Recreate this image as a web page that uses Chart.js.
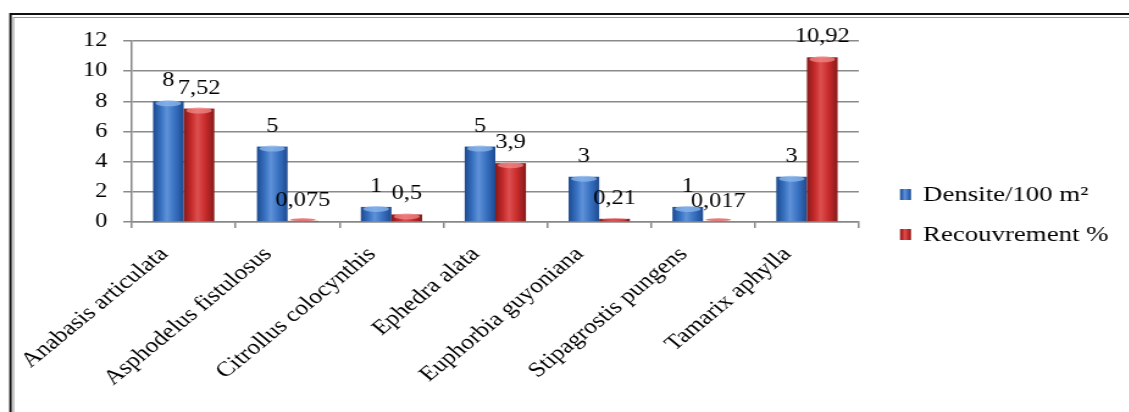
<!DOCTYPE html>
<html>
<head>
<meta charset="utf-8">
<script src="https://cdn.jsdelivr.net/npm/chart.js@4/dist/chart.umd.min.js"></script>
<style>
  html, body { margin: 0; padding: 0; background: #fff; overflow: hidden; }
  #wrap { position: relative; width: 1129px; height: 412px; overflow: hidden; }
  /* the figure is drawn a bit narrow and widened, giving the wide serif look */
  #c { transform: scaleX(1.22); transform-origin: 0 0; }
</style>
</head>
<body>
<div id="wrap"><canvas id="c" width="926" height="412"></canvas></div>
<script>
// species and the two measured series
const especes = [
    'Anabasis articulata',
    'Asphodelus fistulosus',
    'Citrollus colocynthis',
    'Ephedra alata',
    'Euphorbia guyoniana',
    'Stipagrostis pungens',
    'Tamarix aphylla'
];
const densite = [8, 5, 1, 5, 3, 1, 3];
const recouvrement = [7.52, 0.075, 0.5, 3.9, 0.21, 0.017, 10.92];
const yTicks = [0, 2, 4, 6, 8, 10, 12];

const SERIF = '"Liberation Serif", "Times New Roman", serif';
const SX = 1.22;

// blue / red palettes for the shaded bars
const palettes = [
    { dark: '#1d4a8f', mid: '#3770c0', light: '#5f92d8', cap: '#8fb8ec' },
    { dark: '#861a1a', mid: '#c62a2a', light: '#de4f4f', cap: '#f08a8a' }
];

function shadeRect(ctx, x, y, w, h, p) {
    const g = ctx.createLinearGradient(x, 0, x + w, 0);
    g.addColorStop(0, p.dark);
    g.addColorStop(0.25, p.mid);
    g.addColorStop(0.45, p.light);
    g.addColorStop(0.72, p.mid);
    g.addColorStop(1, p.dark);
    ctx.fillStyle = g;
    ctx.fillRect(x, y, w, h);
}

// frame around the whole figure
const framePlugin = {
    id: 'frame',
    beforeDraw(chart) {
        const ctx = chart.ctx;
        ctx.save();
        ctx.strokeStyle = '#111';
        ctx.lineWidth = 2;
        ctx.strokeRect(10.5 / SX, 14, 1000, 420);
        ctx.strokeStyle = '#999';
        ctx.lineWidth = 1;
        ctx.strokeRect(13.5 / SX, 17.5, 1000, 420);
        ctx.restore();
    }
};

// cylinder-like shading over each bar, plus value labels
const barDecor = {
    id: 'barDecor',
    afterDatasetsDraw(chart) {
        const ctx = chart.ctx;
        ctx.save();
        chart.data.datasets.forEach((ds, di) => {
            const meta = chart.getDatasetMeta(di);
            const p = palettes[di];
            meta.data.forEach((bar, i) => {
                const w = bar.width;
                const x = bar.x - w / 2;
                const top = bar.y;
                const h = bar.base - bar.y;
                if (h > 0) shadeRect(ctx, x, top, w, h, p);
                // flat top of the 3D column
                const ry = Math.max(1.5, Math.min(3, h / 2));
                ctx.fillStyle = h > 3 ? p.cap : p.light;
                ctx.globalAlpha = 0.75;
                ctx.beginPath();
                ctx.ellipse(bar.x, Math.min(top + 2, bar.base - ry), w / 2 - 2, ry, 0, 0, Math.PI * 2);
                ctx.fill();
                ctx.globalAlpha = 1;

                const txt = String(ds.data[i]).replace('.', ',');
                ctx.fillStyle = '#000';
                ctx.font = '20px ' + SERIF;
                ctx.textAlign = 'center';
                ctx.textBaseline = 'alphabetic';
                ctx.fillText(txt, bar.x, top - 15);
            });
        });
        ctx.restore();
    }
};

// slanted category names under the axis
const slantLabels = {
    id: 'slantLabels',
    afterDraw(chart) {
        const ctx = chart.ctx;
        const xs = chart.scales.x;
        ctx.save();
        ctx.fillStyle = '#000';
        ctx.font = '21px ' + SERIF;
        ctx.textAlign = 'right';
        ctx.textBaseline = 'middle';
        chart.data.labels.forEach((lab, i) => {
            const cx = xs.getPixelForValue(i);
            ctx.save();
            ctx.translate(cx - 16, 251);
            ctx.rotate(-Math.PI / 4);
            ctx.fillText(lab, 0, 0);
            ctx.restore();
        });
        ctx.restore();
    }
};

// legend to the right of the plot
const sideLegend = {
    id: 'sideLegend',
    afterDraw(chart) {
        const ctx = chart.ctx;
        ctx.save();
        chart.data.datasets.forEach((ds, di) => {
            const cy = 195 + di * 40;
            shadeRect(ctx, 900 / SX, cy - 6, 10 / SX * 1.1, 11, palettes[di]);
            ctx.fillStyle = '#000';
            ctx.font = '22px ' + SERIF;
            ctx.textAlign = 'left';
            ctx.textBaseline = 'middle';
            ctx.fillText(ds.label, 923 / SX, cy);
        });
        ctx.restore();
    }
};

new Chart(document.getElementById('c'), {
    type: 'bar',
    data: {
        labels: especes,
        datasets: [
            { label: 'Densite/100 m²', data: densite, backgroundColor: 'rgba(0,0,0,0)' },
            { label: 'Recouvrement %', data: recouvrement, backgroundColor: 'rgba(0,0,0,0)' }
        ]
    },
    options: {
        responsive: false,
        animation: false,
        devicePixelRatio: 1,
        layout: { padding: { left: 0, top: 41, right: 926 - Math.round(859 / SX), bottom: 0 } },
        datasets: { bar: { categoryPercentage: 0.59, barPercentage: 1.0 } },
        scales: {
            x: {
                afterFit: (s) => { s.height = 190; },
                grid: { display: true, drawOnChartArea: false, offset: true, tickLength: 6, color: '#888', lineWidth: 1.5 },
                border: { display: true, color: '#888', width: 1.5 },
                ticks: { display: false }
            },
            y: {
                min: 0,
                max: 12,
                afterFit: (s) => { s.width = Math.round(132 / SX); },
                afterBuildTicks: (s) => { s.ticks = yTicks.map(v => ({ value: v })); },
                grid: { color: '#8a8a8a', lineWidth: 1.5, tickLength: 7 },
                border: { display: true, color: '#888', width: 1.5 },
                ticks: {
                    color: '#000',
                    font: { family: SERIF, size: 20 },
                    padding: 13
                }
            }
        },
        plugins: {
            legend: { display: false },
            tooltip: { enabled: false }
        }
    },
    plugins: [framePlugin, barDecor, slantLabels, sideLegend]
});
</script>
</body>
</html>
